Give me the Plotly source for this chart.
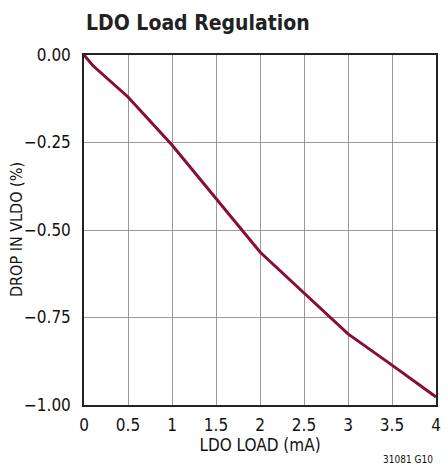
import plotly.graph_objects as go

load_ma = [0, 0.1, 0.5, 1.0, 1.5, 2.0, 2.5, 3.0, 3.5, 4.0]
drop_pct = [0, -0.03, -0.12, -0.257, -0.41, -0.563, -0.68, -0.797, -0.886, -0.977]

x_ticks = [0, 0.5, 1, 1.5, 2, 2.5, 3, 3.5, 4]
x_labels = ["0", "0.5", "1", "1.5", "2", "2.5", "3", "3.5", "4"]
y_ticks = [0, -0.25, -0.5, -0.75, -1.0]
y_labels = ["0.00", "\u22120.25", "\u22120.50", "\u22120.75", "\u22121.00"]

FONT = "DejaVu Sans Condensed, Liberation Sans Narrow, Liberation Sans, sans-serif"

fig = go.Figure()
fig.add_trace(go.Scatter(x=load_ma, y=drop_pct, mode="lines",
                         line=dict(color="#8a0d33", width=3), showlegend=False))

fig.update_layout(
    width=448, height=472,
    margin=dict(l=84, r=12, t=55, b=67),
    paper_bgcolor="white", plot_bgcolor="white",
    font=dict(family=FONT, size=16, color="#111"),
    title=dict(text="<b>LDO Load Regulation</b>", x=86/448, xanchor="left",
               y=1 - 23/472, yanchor="middle",
               font=dict(family=FONT, size=21, color="#222")),
    xaxis=dict(range=[0, 4], tickvals=x_ticks, ticktext=x_labels,
               showgrid=True, gridcolor="#999", gridwidth=1,
               showline=True, linecolor="#222", linewidth=1.5, mirror=True,
               ticks="", zeroline=False, tickfont=dict(size=17),
               ticklabelstandoff=4, automargin=False,
               title=dict(text="LDO LOAD (mA)", standoff=4, font=dict(size=17))),
    yaxis=dict(range=[-1, 0], tickvals=y_ticks, ticktext=y_labels,
               showgrid=True, gridcolor="#999", gridwidth=1,
               showline=True, linecolor="#222", linewidth=1.5, mirror=True,
               ticks="", zeroline=False, tickfont=dict(size=17),
               ticklabelstandoff=8, automargin=False),
)
fig.add_annotation(text="DROP IN VLDO (%)", x=(16 - 84) / 352, y=0.5,
                   xref="paper", yref="paper", textangle=-90,
                   xanchor="center", yanchor="middle", showarrow=False,
                   font=dict(family=FONT, size=16, color="#111"))
fig.add_annotation(text="31081 G10", x=447/448, y=-55/350, xref="paper", yref="paper",
                   xanchor="right", yanchor="middle", showarrow=False,
                   font=dict(family=FONT, size=10, color="#111"))
fig.write_html("out.html", config={"displayModeBar": False})
with open("out.html") as f:
    html = f.read()
html = html.replace("<body>", '<body style="margin:0">', 1)
with open("out.html", "w") as f:
    f.write(html)
